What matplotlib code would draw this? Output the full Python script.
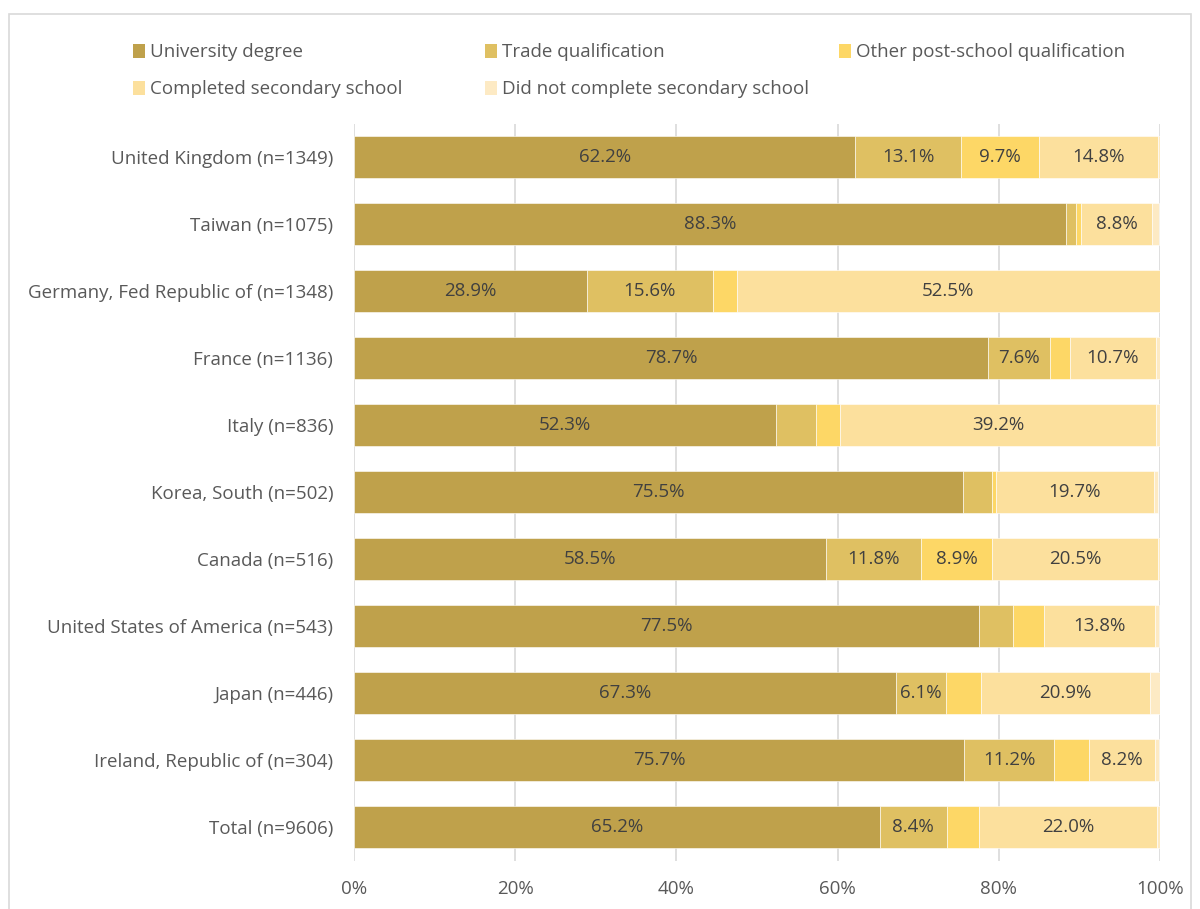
import matplotlib
matplotlib.use("Agg")
import matplotlib.pyplot as plt
from matplotlib.patches import Rectangle
import numpy as np

countries = [
    "United Kingdom (n=1349)",
    "Taiwan (n=1075)",
    "Germany, Fed Republic of (n=1348)",
    "France (n=1136)",
    "Italy (n=836)",
    "Korea, South (n=502)",
    "Canada (n=516)",
    "United States of America (n=543)",
    "Japan (n=446)",
    "Ireland, Republic of (n=304)",
    "Total (n=9606)",
]
series_names = [
    "University degree",
    "Trade qualification",
    "Other post-school qualification",
    "Completed secondary school",
    "Did not complete secondary school",
]
university = [62.2, 88.3, 28.9, 78.7, 52.3, 75.5, 58.5, 77.5, 67.3, 75.7, 65.2]
trade = [13.1, 1.3, 15.6, 7.6, 5.0, 3.6, 11.8, 4.2, 6.1, 11.2, 8.4]
other_post = [9.7, 0.6, 3.0, 2.5, 3.0, 0.5, 8.9, 3.9, 4.4, 4.3, 4.0]
completed = [14.8, 8.8, 52.5, 10.7, 39.2, 19.7, 20.5, 13.8, 20.9, 8.2, 22.0]
not_completed = [0.2, 0.9, 0.0, 0.5, 0.5, 0.4, 0.3, 0.5, 1.3, 0.5, 0.4]
tick_labels = ["0%", "20%", "40%", "60%", "80%", "100%"]

colors = ["#BFA14B", "#DFC062", "#FDD766", "#FCE09D", "#FDEAC4"]
series = [university, trade, other_post, completed, not_completed]

plt.rcParams["font.family"] = ["Open Sans", "DejaVu Sans"]
FS = 13.5
W, H = 1200, 909
fig = plt.figure(figsize=(12, 9.09), dpi=100)

# outer chart border
fig.patches.append(Rectangle((9 / W, -0.05), 1182 / W, 1 - 14 / H + 0.05,
                             transform=fig.transFigure, fill=False,
                             edgecolor="#D9D9D9", linewidth=1.2))

ax = fig.add_axes([354 / W, 1 - 860.5 / H, 806 / W, 737 / H])
y = np.arange(len(countries))
left = np.zeros(len(countries))
for vals, col in zip(series, colors):
    vals = np.array(vals)
    bars = ax.barh(y, vals, left=left, height=0.63, color=col,
                   edgecolor="white", linewidth=0.4, zorder=3)
    for b, v in zip(bars, vals):
        if v >= 5.5:
            ax.text(b.get_x() + b.get_width() / 2, b.get_y() + b.get_height() / 2,
                    f"{v:.1f}%", ha="center", va="center", fontsize=FS,
                    color="#404040", zorder=4)
    left += vals

ax.set_xlim(0, 100)
ax.set_ylim(len(countries) - 0.5, -0.5)
ax.set_yticks(y)
ax.set_yticklabels(countries, fontsize=FS, color="#595959")
ax.set_xticks(np.arange(0, 101, 20))
ax.set_xticklabels(tick_labels, fontsize=FS, color="#595959")
ax.tick_params(axis="y", length=0, pad=15)
ax.tick_params(axis="x", length=0, pad=14)
for s in ax.spines.values():
    s.set_visible(False)
ax.grid(axis="x", color="#D9D9D9", linewidth=1.2, zorder=0)
ax.set_axisbelow(True)

# legend laid out in a 3-column grid
legend_pos = [(133, 51), (485, 51), (839, 51), (133, 88), (485, 88)]
for name, col, (lx, ly) in zip(series_names, colors, legend_pos):
    fig.patches.append(Rectangle((lx / W, 1 - (ly + 6.5) / H), 12 / W, 13 / H,
                                 transform=fig.transFigure, facecolor=col,
                                 edgecolor="none"))
    fig.text((lx + 17) / W, 1 - (ly + 1) / H, name, ha="left", va="center",
             fontsize=FS, color="#595959")

fig.savefig("out.png", dpi=100)
